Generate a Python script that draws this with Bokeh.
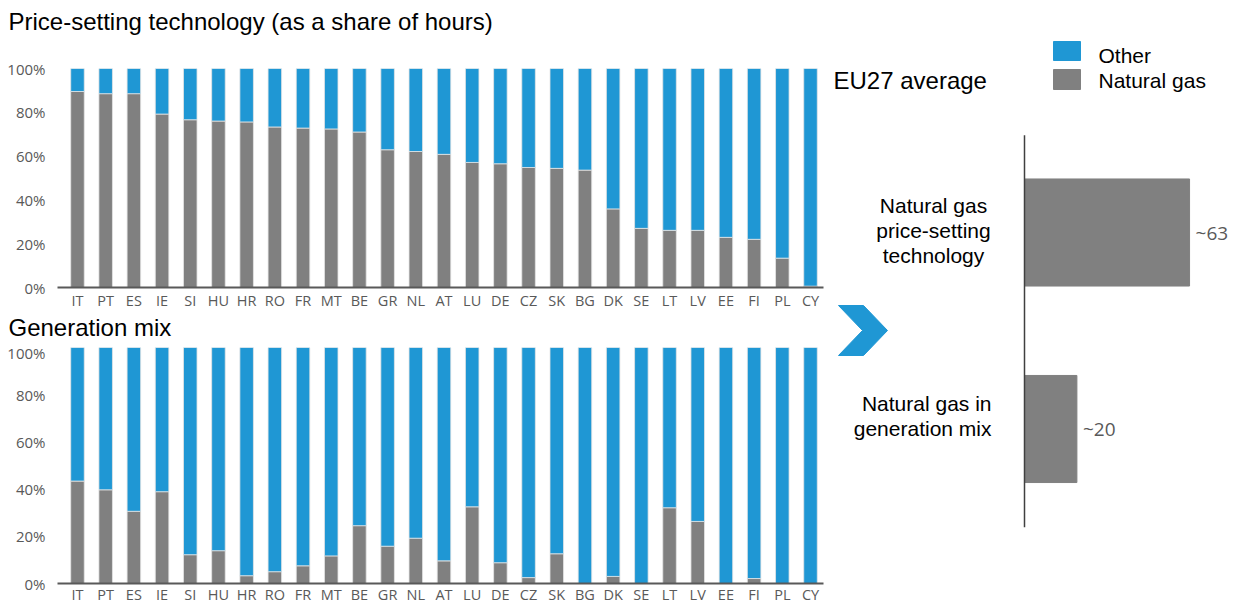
from bokeh.plotting import figure
from bokeh.layouts import row, column
from bokeh.models import Range1d, FixedTicker, NumeralTickFormatter, ColumnDataSource
from bokeh.embed import file_html
from bokeh.resources import INLINE
from bokeh.core.properties import value

# ---------------- data ----------------
countries = ["IT", "PT", "ES", "IE", "SI", "HU", "HR", "RO", "FR", "MT", "BE", "GR", "NL", "AT",
             "LU", "DE", "CZ", "SK", "BG", "DK", "SE", "LT", "LV", "EE", "FI", "PL", "CY"]
price_gas = [89.5, 88.5, 88.5, 79.2, 76.6, 76.0, 75.6, 73.3, 72.8, 72.4, 71.0, 62.9, 62.1, 60.8,
             57.1, 56.5, 54.8, 54.4, 53.6, 35.9, 27.0, 26.1, 26.1, 22.9, 22.0, 13.4, 0.6]
gen_gas = [43.4, 39.7, 30.6, 38.9, 12.2, 13.9, 3.3, 5.0, 7.5, 11.7, 24.5, 15.8, 19.2, 9.6,
           32.5, 8.8, 2.5, 12.6, 0.0, 3.0, 0.0, 32.1, 26.3, 0.0, 2.1, 0.0, 0.0]
y_ticks = [0, 0.2, 0.4, 0.6, 0.8, 1.0]
series_names = ["Natural gas", "Other"]
chart_titles = ["Price-setting technology (as a share of hours)", "Generation mix"]
eu_heading = "EU27 average"
eu_labels = ["Natural gas\nprice-setting\ntechnology", "Natural gas in\ngeneration mix"]
eu_values = [63, 20]
eu_value_labels = ["~63", "~20"]

BLUE = "#1f97d4"
GRAY = "#808080"
TICK_COLOR = "#595959"
TICK_FONT = "Open Sans"
HEAD_FONT = "Liberation Sans"
LEFT_W = 826
FRAME_L = 57
FRAME_R = 823


def title_strip(text, height, standoff):
    # a thin figure whose only visible content is its title
    t = figure(width=LEFT_W, height=height, output_backend="svg", toolbar_location=None,
               x_range=Range1d(0, 1), y_range=Range1d(0, 1),
               min_border_left=FRAME_L, min_border_right=LEFT_W - FRAME_R,
               min_border_top=0, min_border_bottom=0)
    t.axis.visible = False
    t.grid.visible = False
    t.outline_line_color = None
    t.title.text = text
    t.title.text_font = HEAD_FONT
    t.title.text_font_size = "24px"
    t.title.text_font_style = "normal"
    t.title.text_color = "#000000"
    t.title.align = "left"
    t.title.vertical_align = "middle"
    t.title.offset = 8 - FRAME_L
    t.title.standoff = standoff
    return t


def bar_chart(gas, height, border_top, border_bottom, label_standoff):
    idx = list(range(len(countries)))
    src = ColumnDataSource(dict(
        x=idx,
        gas=[g / 100 for g in gas],
        other=[(100 - g) / 100 for g in gas],
    ))
    p = figure(width=LEFT_W, height=height, output_backend="svg", toolbar_location=None,
               x_range=Range1d(-0.709, 26.461), y_range=Range1d(0, 1),
               min_border_left=FRAME_L, min_border_right=LEFT_W - FRAME_R,
               min_border_top=border_top, min_border_bottom=border_bottom)
    p.vbar_stack(["gas", "other"], x="x", width=0.48, color=[GRAY, BLUE],
                 line_color="#e4e4e4", line_width=0.8, source=src)
    p.outline_line_color = None
    p.xgrid.visible = False
    p.ygrid.visible = False

    xa = p.xaxis[0]
    xa.ticker = FixedTicker(ticks=idx)
    xa.major_label_overrides = {i: c for i, c in enumerate(countries)}
    xa.major_tick_line_color = None
    xa.minor_tick_line_color = None
    xa.major_tick_out = 0
    xa.major_tick_in = 0
    xa.axis_line_color = TICK_COLOR
    xa.axis_line_width = 2
    xa.major_label_text_font = TICK_FONT
    xa.major_label_text_font_size = "14.5px"
    xa.major_label_text_color = TICK_COLOR
    xa.major_label_standoff = label_standoff

    ya = p.yaxis[0]
    ya.ticker = FixedTicker(ticks=y_ticks)
    ya.formatter = NumeralTickFormatter(format="0%")
    ya.axis_line_color = None
    ya.major_tick_line_color = None
    ya.minor_tick_line_color = None
    ya.major_tick_out = 0
    ya.major_tick_in = 0
    ya.major_label_text_font = TICK_FONT
    ya.major_label_text_font_size = "15px"
    ya.major_label_text_color = TICK_COLOR
    ya.major_label_standoff = 12
    return p


title_top = title_strip(chart_titles[0], 45, 13)
top = bar_chart(price_gas, 267, 23, 25, 3)
title_bottom = title_strip(chart_titles[1], 30, 0)
bottom = bar_chart(gen_gas, 264, 5, 23, 1)

# ---------------- right panel ----------------
S = 2.62        # px per percentage point
X0 = 1024       # page px of value 0
Y0 = 232        # page px of first category
DY = 196.5      # px between categories


def dx(px):
    return (px - X0) / S


def dy(py):
    return (py - Y0) / DY


r = figure(width=407, height=606, output_backend="svg", toolbar_location=None,
           x_range=Range1d(dx(826), dx(1233)), y_range=Range1d(dy(606), dy(0)),
           min_border=0)
r.axis.visible = False
r.grid.visible = False
r.outline_line_color = None

cat_idx = list(range(len(eu_values)))
r.hbar(y=cat_idx, left=0, right=eu_values, height=0.545, color=GRAY)
r.segment(x0=[0], y0=[-0.495], x1=[0], y1=[1.5], line_color="#404040", line_width=1.5)
r.text(x=eu_values, y=cat_idx, text=eu_value_labels, x_offset=6,
       text_align="left", text_baseline="middle",
       text_font=value(TICK_FONT), text_font_size="19px", text_color=TICK_COLOR)
r.text(x=[0], y=[0], text=[eu_labels[0]], x_offset=-91, y_offset=-2,
       text_align="center", text_baseline="middle", text_line_height=1.07,
       text_font=value(HEAD_FONT), text_font_size="21px", text_color="#000000")
r.text(x=[0], y=[1], text=[eu_labels[1]], x_offset=-33, y_offset=-13,
       text_align="right", text_baseline="middle", text_line_height=1.07,
       text_font=value(HEAD_FONT), text_font_size="21px", text_color="#000000")

# heading
r.text(x=[dx(833)], y=[dy(80)], text=[eu_heading], text_align="left",
       text_baseline="middle", text_font=value(HEAD_FONT), text_font_size="24px",
       text_color="#000000")

# legend
r.quad(left=[dx(1053), dx(1053)], right=[dx(1080), dx(1080)],
       top=[dy(41), dy(69)], bottom=[dy(60), dy(89)], color=[BLUE, GRAY])
r.text(x=[dx(1098), dx(1098)], y=[dy(55), dy(80)], text=list(reversed(series_names)),
       text_align="left", text_baseline="middle", text_font=value(HEAD_FONT),
       text_font_size="21px", text_color="#000000")

# chevron arrow
chev_px = [(838, 305), (863, 305), (887, 330), (863, 355), (838, 355), (862, 330)]
r.patch(x=[dx(a) for a, b in chev_px], y=[dy(b) for a, b in chev_px], color=BLUE)

layout = row(column(title_top, top, title_bottom, bottom), r)
open("out.html", "w").write(file_html(layout, INLINE))
